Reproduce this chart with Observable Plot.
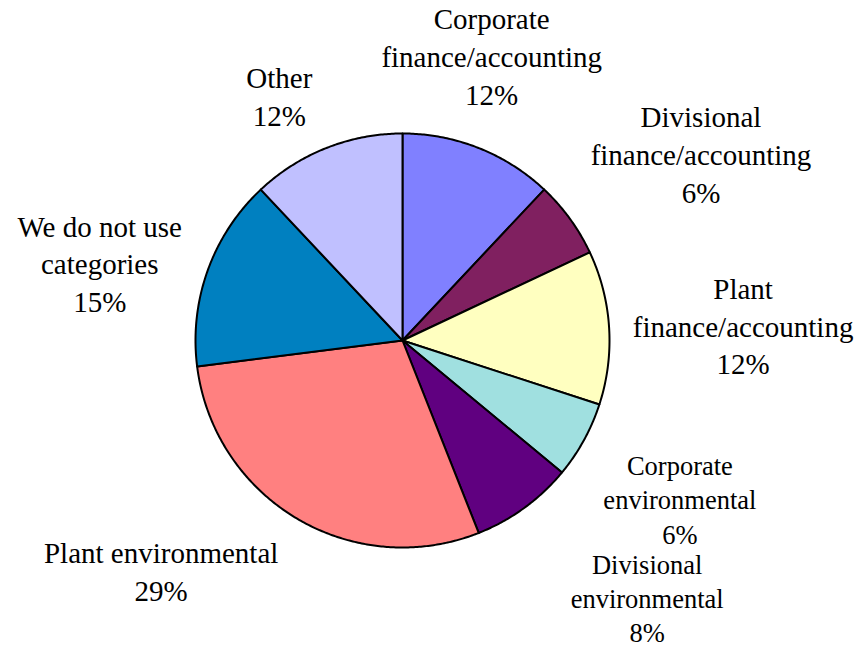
<!DOCTYPE html>
<html>
<head>
<meta charset="utf-8">
<script src="https://cdn.jsdelivr.net/npm/d3@7"></script>
<script src="https://cdn.jsdelivr.net/npm/@observablehq/plot@0.6"></script>
<style>
  html, body { margin: 0; padding: 0; background: #fff; }
  #chart svg { display: block; }
</style>
</head>
<body>
<div id="chart"></div>
<script>
// ---- data ----
const categories = [
  "Corporate finance/accounting",
  "Divisional finance/accounting",
  "Plant finance/accounting",
  "Corporate environmental",
  "Divisional environmental",
  "Plant environmental",
  "We do not use categories",
  "Other"
];
const labelLines = [
  "Corporate\nfinance/accounting",
  "Divisional\nfinance/accounting",
  "Plant\nfinance/accounting",
  "Corporate\nenvironmental",
  "Divisional\nenvironmental",
  "Plant environmental",
  "We do not use\ncategories",
  "Other"
];
const values = [12, 6, 12, 6, 8, 29, 15, 12];
const colors = ["#8080FF", "#802060", "#FFFFC0", "#A0E0E0", "#600080", "#FF8080", "#0080C0", "#C0C0FF"];

// ---- layout (pixels) ----
const W = 860, H = 649;
const cx = 402, cy = 340, R = 207;
// label nudges from the rim point at each slice's mid-angle (px)
const labelNudge = [[13, -93], [131, -66], [134, -3], [96, 58], [123, 89], [-136, 51], [-108, -8], [-47, -53]];
const labelSize = [29, 29, 29, 26.5, 26.5, 29, 29, 29];

const total = d3.sum(values);
const pie = d3.pie().sort(null).value(d => d)(values);

// slice outlines in unit-circle coordinates (angle clockwise from top)
const pts = [];
pie.forEach((p, i) => {
  const cat = categories[i];
  pts.push({cat, x: 0, y: 0});
  const steps = Math.max(2, Math.ceil((p.endAngle - p.startAngle) / (Math.PI / 360)));
  for (let k = 0; k <= steps; k++) {
    const a = p.startAngle + (p.endAngle - p.startAngle) * k / steps;
    pts.push({cat, x: Math.sin(a), y: Math.cos(a)});
  }
});

const labels = pie.map((p, i) => {
  const a = (p.startAngle + p.endAngle) / 2;
  const [nx, ny] = labelNudge[i];
  return {
    text: labelLines[i] + "\n" + Math.round(values[i] / total * 100) + "%",
    x: Math.sin(a) + nx / R,
    y: Math.cos(a) - ny / R,
    size: labelSize[i]
  };
});

const chart = Plot.plot({
  width: W,
  height: H,
  margin: 0,
  x: {domain: [-cx / R, (W - cx) / R], axis: null},
  y: {domain: [-(H - cy) / R, cy / R], axis: null},
  color: {type: "ordinal", domain: categories, range: colors},
  style: {background: "#fff"},
  marks: [
    Plot.line(pts, {
      x: "x", y: "y", z: "cat", fill: "cat",
      stroke: "#000", strokeWidth: 2, strokeLinejoin: "round",
      curve: "linear-closed"
    }),
    Plot.text(labels, {
      x: "x", y: "y", text: "text", fontSize: "size",
      fontFamily: "Liberation Serif", fill: "#000",
      textAnchor: "middle", lineAnchor: "middle", lineHeight: 1.3
    })
  ]
});
document.getElementById("chart").appendChild(chart);
</script>
</body>
</html>
